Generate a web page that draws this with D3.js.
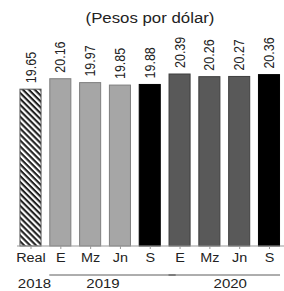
<!DOCTYPE html>
<html><head><meta charset="utf-8">
<script src="https://cdn.jsdelivr.net/npm/d3@7/dist/d3.min.js"></script>
<style>html,body{margin:0;padding:0;background:#fff;}svg{display:block;}</style>
</head><body>
<script>
const categories = ["Real","E","Mz","Jn","S","E","Mz","Jn","S"];
const years = ["2018","2019","2019","2019","2019","2020","2020","2020","2020"];
const values = [19.65,20.16,19.97,19.85,19.88,20.39,20.26,20.27,20.36];
const kinds = ["real","light","light","light","black","dark","dark","dark","black"];
const yearLabels = ["2018","2019","2020"];
const title = "(Pesos por dólar)";

const W = 284, H = 291;
const svg = d3.select("body").append("svg").attr("width", W).attr("height", H);
const font = "Liberation Sans, Arial, sans-serif";
const STRETCH = 1.2;

const defs = svg.append("defs");
const pat = defs.append("pattern").attr("id","hatch").attr("patternUnits","userSpaceOnUse")
  .attr("width",4.2).attr("height",4.2).attr("patternTransform","rotate(45)");
pat.append("rect").attr("width",4.2).attr("height",4.2).attr("fill","#fff");
pat.append("rect").attr("width",4.2).attr("height",2.1).attr("fill","#222");

const x = d3.scaleBand().domain(d3.range(categories.length)).range([15.6, 283.9]).paddingInner(0.26).paddingOuter(0.13);
const y = d3.scaleLinear().domain([12, 20.39]).range([246, 74]);

const fills = {real:"url(#hatch)", light:"#a6a6a6", dark:"#595959", black:"#000"};
const strokes = {real:"#555", light:"#7f7f7f", dark:"#3f3f3f", black:"#000"};

function stretch(sel){
  sel.each(function(){
    const len = this.getComputedTextLength();
    d3.select(this).attr("textLength", len*STRETCH).attr("lengthAdjust","spacingAndGlyphs");
  });
}

// title
svg.append("text").attr("x", 150).attr("y", 23).attr("text-anchor","middle")
  .attr("font-family", font).attr("font-size", 14).attr("fill","#222").text(title).call(stretch);

// bars
svg.append("g").selectAll("rect").data(values).join("rect")
  .attr("x",(d,i)=>x(i)+0.5).attr("width",x.bandwidth()-1)
  .attr("y",d=>y(d)).attr("height",d=>y.range()[0]-y(d))
  .attr("fill",(d,i)=>fills[kinds[i]]).attr("stroke",(d,i)=>strokes[kinds[i]]).attr("stroke-width",1);

// value labels (rotated, widened horizontally)
svg.append("g").selectAll("text").data(values).join("text")
  .attr("transform",(d,i)=>`translate(${x(i)+x.bandwidth()/2+5},${y(d)-6}) scale(${STRETCH},1) rotate(-90)`)
  .attr("font-family", font).attr("font-size", 12.5).attr("fill","#222")
  .text(d=>d.toFixed(2));

// x axis
const axis = d3.axisBottom(d3.scaleOrdinal().domain(d3.range(categories.length)).range(d3.range(categories.length).map(i=>x(i)+x.bandwidth()/2)))
  .tickSize(3).tickFormat(i=>categories[i]);
const gAx = svg.append("g").attr("transform","translate(0,246)").call(axis);
gAx.select(".domain").remove();
gAx.append("line").attr("x1",17).attr("x2",284).attr("stroke","#999");
gAx.selectAll(".tick line").attr("stroke","#999");
gAx.selectAll(".tick text").attr("font-family",font).attr("font-size",12).attr("fill","#222").attr("dy",null).attr("y",16).call(stretch);

// year groups
const groups = yearLabels.map(yr=>{
  const idx = years.map((v,i)=>v===yr?i:-1).filter(i=>i>=0);
  return {yr, x0:x(idx[0]), x1:x(idx[idx.length-1])+x.bandwidth(), n:idx.length};
});
const gy = svg.append("g");
groups.forEach(g=>{
  if(g.n>1){
    gy.append("line").attr("x1",g.x0).attr("x2",g.x1+ (g.yr==="2019"?x.step()*0.5:0)).attr("y1",275).attr("y2",275).attr("stroke","#333").attr("stroke-width",0.8);
  }
  const cx = g.n>1 ? (g.x0+g.x1)/2 + (g.yr==="2020"?6:-2) : (g.x0+g.x1)/2 + 4;
  gy.append("text").attr("x",cx).attr("y",288).attr("text-anchor","middle")
    .attr("font-family",font).attr("font-size",12.5).attr("fill","#222").text(g.yr).call(stretch);
});
</script>
</body></html>
